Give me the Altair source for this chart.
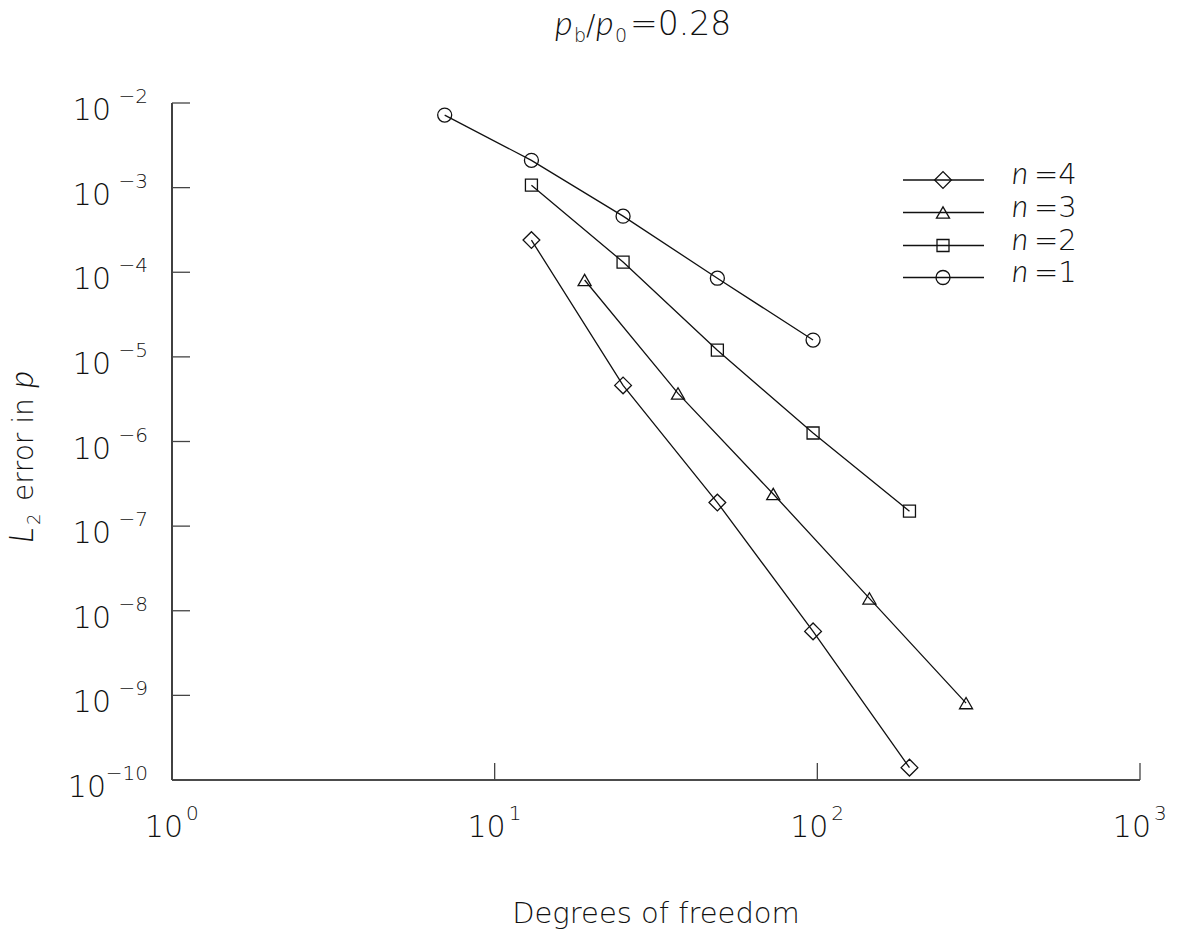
import altair as alt
import pandas as pd

# ---------------- data ----------------
dof_n1 = [7, 13, 25, 49, 97]
err_n1 = [7.2e-3, 2.1e-3, 4.6e-4, 8.5e-5, 1.58e-5]
dof_n2 = [13, 25, 49, 97, 193]
err_n2 = [1.07e-3, 1.32e-4, 1.2e-5, 1.26e-6, 1.5e-7]
dof_n3 = [19, 37, 73, 145, 289]
err_n3 = [8.1e-5, 3.7e-6, 2.4e-7, 1.4e-8, 8.1e-10]
dof_n4 = [13, 25, 49, 97, 193]
err_n4 = [2.4e-4, 4.6e-6, 1.9e-7, 5.7e-9, 1.4e-10]

series_labels = ["n=4", "n=3", "n=2", "n=1"]
series_numbers = ["4", "3", "2", "1"]
series_shapes = ["diamond", "triangle-up", "square", "circle"]
series_sizes = [280, 170, 144, 196]
series_dofs = [dof_n4, dof_n3, dof_n2, dof_n1]
series_errs = [err_n4, err_n3, err_n2, err_n1]

x_ticks = [1, 10, 100, 1000]
x_tick_exps = ["0", "1", "2", "3"]
y_ticks = [1e-2, 1e-3, 1e-4, 1e-5, 1e-6, 1e-7, 1e-8, 1e-9, 1e-10]
y_tick_exps = ["\u22122", "\u22123", "\u22124", "\u22125", "\u22126",
               "\u22127", "\u22128", "\u22129", "\u221210"]

x_title = "Degrees of freedom"
y_title_parts = ["L", "2", "error in", "p"]
title_parts = ["p", "b", "/", "p", "0", "=0.28"]

rows = []
for lab, ds, es in zip(series_labels, series_dofs, series_errs):
    for d, e in zip(ds, es):
        rows.append({"series": lab, "dof": d, "err": e})
df = pd.DataFrame(rows)

# ---------------- styling ----------------
W, H = 968, 677
SANS = "DejaVu Sans"
ITAL = "Lato"
WEIGHT = 200
INK = "#111111"
TICK = "#444444"

xscale = alt.Scale(type="log", domain=[1, 1000], nice=False)
yscale = alt.Scale(type="log", domain=[1e-10, 1e-2], nice=False)

base = alt.Chart(df).encode(
    x=alt.X("dof:Q", scale=xscale, axis=None),
    y=alt.Y("err:Q", scale=yscale, axis=None),
    detail="series:N",
)
layers = [base.mark_line(color=INK, strokeWidth=1.3)]

for lab, shp, sz in zip(series_labels, series_shapes, series_sizes):
    layers.append(
        base.transform_filter(alt.datum.series == lab).mark_point(
            shape=shp, size=sz, filled=False, color=INK, strokeWidth=1.3, opacity=1
        )
    )

one = alt.Data(values=[{"k": 1}])

# ---------------- axis lines ----------------
layers.append(
    alt.Chart(one).mark_rule(color=INK, strokeWidth=1.6).encode(
        x=alt.value(0), x2=alt.value(W), y=alt.value(H))
)
layers.append(
    alt.Chart(one).mark_rule(color=INK, strokeWidth=1.6).encode(
        x=alt.value(0), y=alt.value(0), y2=alt.value(H))
)

# ---------------- ticks (inward) ----------------
xt_df = pd.DataFrame({"v": x_ticks, "e": x_tick_exps})
yt_df = pd.DataFrame({"v": y_ticks, "e": y_tick_exps})

layers.append(
    alt.Chart(xt_df).mark_rule(color=TICK, strokeWidth=1.3).encode(
        x=alt.X("v:Q", scale=xscale, axis=None),
        y=alt.value(H), y2=alt.value(H - 17))
)
layers.append(
    alt.Chart(yt_df).mark_rule(color=TICK, strokeWidth=1.3).encode(
        y=alt.Y("v:Q", scale=yscale, axis=None),
        x=alt.value(0), x2=alt.value(18))
)

# ---------------- tick labels ----------------
layers.append(
    alt.Chart(xt_df).mark_text(align="right", baseline="alphabetic", dx=11,
                               font=SANS, fontSize=30, fontWeight=WEIGHT,
                               color=INK).encode(
        x=alt.X("v:Q", scale=xscale, axis=None),
        y=alt.value(H + 57), text=alt.value("10"))
)
layers.append(
    alt.Chart(xt_df).mark_text(align="left", baseline="alphabetic", dx=14,
                               font=SANS, fontSize=20, fontWeight=WEIGHT,
                               color=INK).encode(
        x=alt.X("v:Q", scale=xscale, axis=None),
        y=alt.value(H + 40), text="e:N")
)
layers.append(
    alt.Chart(yt_df).mark_text(align="right", baseline="alphabetic", dy=0,
                               font=SANS, fontSize=20, fontWeight=WEIGHT,
                               color=INK).encode(
        y=alt.Y("v:Q", scale=yscale, axis=None),
        x=alt.value(-24), text="e:N")
)
layers.append(
    alt.Chart(yt_df).transform_filter("length(datum.e) < 3").mark_text(
        align="right", baseline="alphabetic", dy=17,
        font=SANS, fontSize=30, fontWeight=WEIGHT, color=INK).encode(
        y=alt.Y("v:Q", scale=yscale, axis=None),
        x=alt.value(-61), text=alt.value("10"))
)
layers.append(
    alt.Chart(yt_df).transform_filter("length(datum.e) >= 3").mark_text(
        align="right", baseline="alphabetic", dy=17,
        font=SANS, fontSize=30, fontWeight=WEIGHT, color=INK).encode(
        y=alt.Y("v:Q", scale=yscale, axis=None),
        x=alt.value(-66), text=alt.value("10"))
)


def txt(s, x, y, size, style="normal", angle=0, align="left", font=SANS,
        weight=WEIGHT):
    return alt.Chart(one).mark_text(
        align=align, baseline="alphabetic", font=font, fontSize=size,
        fontStyle=style, fontWeight=weight, angle=angle, color=INK
    ).encode(x=alt.value(x), y=alt.value(y), text=alt.value(s))


def itxt(s, x, y, size, angle=0):
    return txt(s, x, y, size, "italic", angle=angle, font=ITAL, weight=300)


# ---------------- title p_b/p_0=0.28 ----------------
layers += [
    itxt(title_parts[0], 383, -68, 34),
    txt(title_parts[1], 402, -61, 19),
    txt(title_parts[2], 414, -68, 28),
    itxt(title_parts[3], 424, -68, 34),
    txt(title_parts[4], 443, -61, 19),
    txt(title_parts[5], 458, -68, 33),
]

# ---------------- y title L_2 error in p ----------------
layers += [
    itxt(y_title_parts[0], -139, 440, 33, angle=270),
    txt(y_title_parts[1], -132, 422, 18, angle=270),
    txt(y_title_parts[2], -139, 398, 28, angle=270),
    itxt(y_title_parts[3], -139, 285, 33, angle=270),
]

# ---------------- x title ----------------
layers.append(txt(x_title, W / 2, H + 143, 29, align="center"))

# ---------------- legend ----------------
row_y = [77, 109.5, 142.5, 174.5]
for num, shp, sz, yy in zip(series_numbers, series_shapes, series_sizes, row_y):
    layers.append(
        alt.Chart(one).mark_rule(color=INK, strokeWidth=1.3).encode(
            x=alt.value(731), x2=alt.value(812), y=alt.value(yy))
    )
    layers.append(
        alt.Chart(one).mark_point(shape=shp, size=sz, filled=False, color=INK,
                                  strokeWidth=1.3, opacity=1).encode(
            x=alt.value(771), y=alt.value(yy))
    )
    layers.append(itxt("n", 840, yy + 4, 31))
    layers.append(txt("=" + num, 862, yy + 4, 29))

chart = alt.layer(*layers).properties(
    width=W, height=H,
    autosize=alt.AutoSizeParams(type="none"),
    padding={"left": 172, "top": 103, "right": 37, "bottom": 157},
).configure_view(stroke=None)

chart.save("out.html", embed_options={"renderer": "svg", "actions": False})
